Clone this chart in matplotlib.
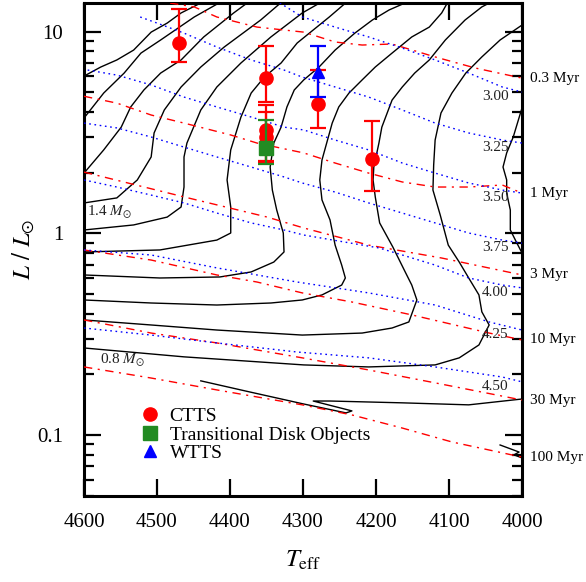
import matplotlib
matplotlib.use("Agg")
import matplotlib.pyplot as plt
import numpy as np
from matplotlib.ticker import LogLocator, NullFormatter

plt.rcParams['font.family'] = ['Liberation Serif', 'DejaVu Serif']
plt.rcParams['mathtext.fontset'] = 'stix'

# ---------------- evolutionary tracks (Teff [K], log L/Lsun) ----------------
trk_17_teff = [4600, 4577, 4555, 4532, 4508, 4486, 4467, 4432]
trk_17_logl = [0.780, 0.825, 0.860, 0.909, 0.998, 1.043, 1.093, 1.157]
trk_16_teff = [4600, 4573, 4545, 4522, 4495, 4449, 4408]
trk_16_logl = [0.572, 0.696, 0.795, 0.894, 0.959, 1.073, 1.157]
trk_15_teff = [4600, 4573, 4549, 4536, 4518, 4495, 4467, 4436, 4395, 4371]
trk_15_logl = [0.299, 0.414, 0.527, 0.627, 0.711, 0.795, 0.860, 0.974, 1.093, 1.157]
trk_14_teff = [4600, 4555, 4527, 4508, 4504, 4490, 4467, 4440, 4408, 4358, 4326]
trk_14_logl = [0.151, 0.176, 0.265, 0.379, 0.498, 0.612, 0.726, 0.825, 0.924, 1.058, 1.157]
trk_13_teff = [4600, 4532, 4486, 4467, 4463, 4463, 4459, 4440, 4418, 4385, 4344, 4301, 4270]
trk_13_logl = [0.017, 0.042, 0.081, 0.131, 0.230, 0.379, 0.448, 0.612, 0.726, 0.845, 0.974, 1.093, 1.157]
trk_12_teff = [4600, 4496, 4418, 4399, 4399, 4404, 4399, 4385, 4371, 4353, 4330, 4308, 4264, 4237]
trk_12_logl = [-0.092, -0.082, -0.033, 0.002, 0.131, 0.265, 0.414, 0.577, 0.696, 0.775, 0.845, 0.944, 1.073, 1.157]
trk_11_teff = [4600, 4496, 4414, 4371, 4340, 4326, 4327, 4336, 4342, 4345, 4340, 4330, 4322, 4312,
               4299, 4278, 4256, 4229, 4205, 4182, 4151]
trk_11_logl = [-0.206, -0.221, -0.216, -0.191, -0.142, -0.092, 0.002, 0.116, 0.215, 0.329, 0.448, 0.527,
               0.627, 0.711, 0.761, 0.825, 0.909, 0.993, 1.058, 1.108, 1.157]
trk_10_teff = [4600, 4508, 4418, 4344, 4301, 4274, 4247, 4242, 4247, 4256, 4263, 4274, 4277, 4274,
               4260, 4251, 4237, 4219, 4201, 4178, 4151, 4127, 4110, 4100]
trk_10_logl = [-0.330, -0.345, -0.355, -0.345, -0.330, -0.305, -0.256, -0.221, -0.157, -0.058, 0.067,
               0.166, 0.265, 0.364, 0.547, 0.627, 0.696, 0.761, 0.825, 0.894, 0.974, 1.023, 1.093, 1.157]
trk_09_teff = [4600, 4508, 4418, 4301, 4219, 4178, 4155, 4144, 4151, 4160, 4177, 4195, 4201, 4204,
               4203, 4196, 4192, 4178, 4164, 4147, 4127, 4105, 4078, 4055, 4037]
trk_09_logl = [-0.429, -0.454, -0.479, -0.504, -0.494, -0.469, -0.439, -0.330, -0.256, -0.191, -0.067,
               0.052, 0.181, 0.265, 0.329, 0.448, 0.527, 0.661, 0.726, 0.795, 0.860, 0.959, 1.058, 1.123, 1.157]
trk_08_teff = [4600, 4463, 4299, 4210, 4119, 4086, 4059, 4045, 4055, 4059, 4073, 4086, 4101, 4112,
               4122, 4121, 4119, 4111, 4096, 4077, 4055, 4030, 4000]
trk_08_logl = [-0.568, -0.612, -0.652, -0.662, -0.652, -0.617, -0.553, -0.454, -0.389, -0.305, -0.221,
               -0.142, -0.058, 0.091, 0.215, 0.339, 0.463, 0.597, 0.696, 0.795, 0.875, 0.959, 1.033]
trk_07a_teff = [4000, 4012, 4021, 4026, 4021, 4021, 4016, 4016, 4007, 4000]
trk_07a_logl = [0.622, 0.478, 0.399, 0.329, 0.265, 0.200, 0.116, 0.017, -0.048, -0.097]
trk_07b_teff = [4000, 4073, 4164, 4263, 4286, 4233, 4241, 4300, 4373, 4440]
trk_07b_logl = [-0.821, -0.850, -0.840, -0.831, -0.831, -0.880, -0.890, -0.845, -0.786, -0.731]
trk_06_teff = [4030, 4004, 4011, 4000]
trk_06_logl = [-1.049, -1.084, -1.098, -1.113]

# ---------------- isochrones (red dash-dot) ----------------
iso_ages = ['0.3 Myr', '1 Myr', '3 Myr', '10 Myr', '30 Myr', '100 Myr']
iso_03_teff = [4482, 4449, 4418, 4363, 4299, 4256, 4219, 4178, 4119, 4064, 4000]
iso_03_logl = [1.142, 1.123, 1.073, 1.023, 0.998, 0.949, 0.934, 0.939, 0.875, 0.820, 0.770]
iso_1_teff = [4600, 4555, 4508, 4463, 4399, 4363, 4299, 4256, 4210, 4164, 4119, 4073, 4027, 4000]
iso_1_logl = [0.680, 0.646, 0.587, 0.547, 0.488, 0.448, 0.399, 0.349, 0.299, 0.255, 0.230, 0.230, 0.240, 0.200]
iso_3_teff = [4600, 4463, 4349, 4299, 4210, 4110, 4000]
iso_3_logl = [0.304, 0.181, 0.081, 0.027, -0.058, -0.122, -0.206]
iso_10_teff = [4600, 4508, 4418, 4363, 4301, 4233, 4151, 4045, 4000]
iso_10_logl = [-0.082, -0.132, -0.206, -0.241, -0.295, -0.340, -0.404, -0.494, -0.528]
iso_30_teff = [4600, 4508, 4418, 4301, 4210, 4119, 4000]
iso_30_logl = [-0.429, -0.494, -0.543, -0.617, -0.677, -0.741, -0.826]
iso_100_teff = [4600, 4508, 4418, 4301, 4233, 4164, 4096, 4000]
iso_100_logl = [-0.662, -0.717, -0.776, -0.850, -0.900, -0.965, -1.034, -1.109]

# ---------------- constant log g lines (blue dotted) ----------------
logg_labels = ['3.00', '3.25', '3.50', '3.75', '4.00', '4.25', '4.50']
g300_teff = [4338, 4301, 4256, 4210, 4164, 4119, 4073, 4027, 4000]
g300_logl = [1.157, 1.073, 1.023, 0.974, 0.919, 0.860, 0.795, 0.726, 0.701]
g325_teff = [4523, 4500, 4463, 4418, 4371, 4326, 4301, 4256, 4210, 4164, 4119, 4073, 4027, 4000]
g325_logl = [1.073, 1.043, 0.993, 0.924, 0.860, 0.810, 0.775, 0.726, 0.676, 0.612, 0.547, 0.498, 0.463, 0.448]
g350_teff = [4595, 4555, 4508, 4463, 4418, 4371, 4326, 4299, 4256, 4210, 4164, 4119, 4073, 4027, 4000]
g350_logl = [0.810, 0.785, 0.736, 0.676, 0.627, 0.577, 0.527, 0.513, 0.463, 0.414, 0.349, 0.299, 0.250, 0.215, 0.200]
g375_teff = [4600, 4555, 4508, 4463, 4418, 4371, 4326, 4301, 4256, 4210, 4164, 4119, 4073, 4027, 4000]
g375_logl = [0.547, 0.523, 0.478, 0.428, 0.379, 0.329, 0.280, 0.250, 0.205, 0.151, 0.101, 0.052, 0.002, -0.033, -0.048]
g400_teff = [4600, 4555, 4508, 4463, 4418, 4371, 4326, 4299, 4196, 4164, 4119, 4073, 4027, 4000]
g400_logl = [0.265, 0.230, 0.190, 0.151, 0.101, 0.052, 0.017, -0.008, -0.072, -0.107, -0.157, -0.221, -0.256, -0.270]
g425_teff = [4600, 4508, 4418, 4308, 4210, 4119, 4045, 4000]
g425_logl = [-0.082, -0.107, -0.171, -0.241, -0.295, -0.355, -0.439, -0.479]
g450_teff = [4600, 4508, 4418, 4308, 4210, 4119, 4027, 4000]
g450_logl = [-0.469, -0.504, -0.543, -0.588, -0.617, -0.662, -0.712, -0.736]

# ---------------- observed objects ----------------
ctts_teff = [4470, 4350, 4350, 4350, 4280, 4205]
ctts_lum = [8.79, 5.89, 3.26, 3.01, 4.37, 2.34]
ctts_lo = [7.08, 4.48, 2.29, 2.24, 3.33, 1.62]
ctts_hi = [12.96, 8.49, 4.33, 4.00, 6.46, 3.61]
td_teff = [4350]
td_lum = [2.65]
td_lo = [2.21]
td_hi = [3.65]
wtts_teff = [4280]
wtts_lum = [6.31]
wtts_lo = [4.74]
wtts_hi = [8.49]

tracks = [(trk_17_teff, trk_17_logl), (trk_16_teff, trk_16_logl), (trk_15_teff, trk_15_logl),
          (trk_14_teff, trk_14_logl), (trk_13_teff, trk_13_logl), (trk_12_teff, trk_12_logl),
          (trk_11_teff, trk_11_logl), (trk_10_teff, trk_10_logl), (trk_09_teff, trk_09_logl),
          (trk_08_teff, trk_08_logl), (trk_07a_teff, trk_07a_logl), (trk_07b_teff, trk_07b_logl),
          (trk_06_teff, trk_06_logl)]
isochrones = [(iso_03_teff, iso_03_logl), (iso_1_teff, iso_1_logl), (iso_3_teff, iso_3_logl),
              (iso_10_teff, iso_10_logl), (iso_30_teff, iso_30_logl), (iso_100_teff, iso_100_logl)]
logg_lines = [(g300_teff, g300_logl), (g325_teff, g325_logl), (g350_teff, g350_logl),
              (g375_teff, g375_logl), (g400_teff, g400_logl), (g425_teff, g425_logl),
              (g450_teff, g450_logl)]

fig = plt.figure(figsize=(5.86, 5.82), dpi=100)
ax = fig.add_axes([84 / 586, 86 / 582, 438 / 586, 493 / 582])

for t, l in tracks:
    ax.plot(t, 10 ** np.array(l), color='black', lw=1.0, zorder=2)

for (t, l), lab in zip(isochrones, iso_ages):
    ax.plot(t, 10 ** np.array(l), color='red', lw=1.0, dashes=(6, 4, 1.5, 4), zorder=3)
    ax.annotate(lab, xy=(t[-1], 10 ** l[-1]), xytext=(6, 0), textcoords='offset points',
                ha='left', va='center', fontsize=11, annotation_clip=False)

for (t, l), lab in zip(logg_lines, logg_labels):
    ax.plot(t, 10 ** np.array(l), color='blue', lw=1.0, dashes=(1.2, 2.6), zorder=3)
    ax.annotate(lab, xy=(4018, 10 ** l[-1]), xytext=(0, -3), textcoords='offset points',
                ha='right', va='center', fontsize=11, color='#222222')

ax.text(4596, 10 ** 0.106, r'1.4 $M_{\odot}$', fontsize=11, ha='left', va='center', color='#222222')
ax.text(4578, 10 ** -0.632, r'0.8 $M_{\odot}$', fontsize=11, ha='left', va='center', color='#222222')

# error bars (asymmetric)
def asym(v, lo, hi):
    v = np.array(v)
    return [v - np.array(lo), np.array(hi) - v]

ax.errorbar(ctts_teff, ctts_lum, yerr=asym(ctts_lum, ctts_lo, ctts_hi), fmt='none',
            ecolor='red', elinewidth=1.6, capsize=6, capthick=1.6, zorder=5)
ax.plot(ctts_teff, ctts_lum, 'o', color='red', ms=9.5, mec='red', label='CTTS', zorder=6)
ax.errorbar(td_teff, td_lum, yerr=asym(td_lum, td_lo, td_hi), fmt='none',
            ecolor='#228B22', elinewidth=1.6, capsize=6, capthick=1.6, zorder=7)
ax.plot(td_teff, td_lum, 's', color='#228B22', ms=10, mec='#228B22',
        label='Transitional Disk Objects', zorder=8)
ax.errorbar(wtts_teff, wtts_lum, yerr=asym(wtts_lum, wtts_lo, wtts_hi), fmt='none',
            ecolor='blue', elinewidth=1.6, capsize=6, capthick=1.6, zorder=7)
ax.plot(wtts_teff, wtts_lum, '^', color='blue', ms=9, mec='blue', label='WTTS', zorder=8)

ax.set_yscale('log')
ax.set_xlim(4600, 4000)
ax.set_ylim(0.0499, 13.88)
ax.set_xticks([4600, 4500, 4400, 4300, 4200, 4100, 4000])
ax.set_xticklabels(['4600', '4500', '4400', '4300', '4200', '4100', '4000'])
ax.set_yticks([0.1, 1, 10])
ax.set_yticklabels(['0.1', '1', '10'])
ax.yaxis.set_minor_locator(LogLocator(base=10, subs=np.arange(2, 10)))
ax.yaxis.set_minor_formatter(NullFormatter())

ax.tick_params(which='major', direction='in', length=12, width=1.6, top=True, right=True,
               labelsize=15, pad=12)
ax.tick_params(axis='y', which='major', pad=15)
ax.tick_params(which='minor', direction='in', length=7, width=1.6, top=True, right=True)
for s in ax.spines.values():
    s.set_linewidth(2.2)

ax.set_xlabel(r'$T_{\rm eff}$', fontsize=18, labelpad=12)
ax.set_ylabel(r'$L\ /\ L_{\odot}$', fontsize=18, labelpad=0)

ax.legend(loc='upper left', bbox_to_anchor=(0.089, 0.215), frameon=False, fontsize=14,
          handlelength=1.0, handletextpad=0.5, labelspacing=0.05, borderpad=0.4,
          numpoints=1)

fig.savefig('out.png', dpi=100)
